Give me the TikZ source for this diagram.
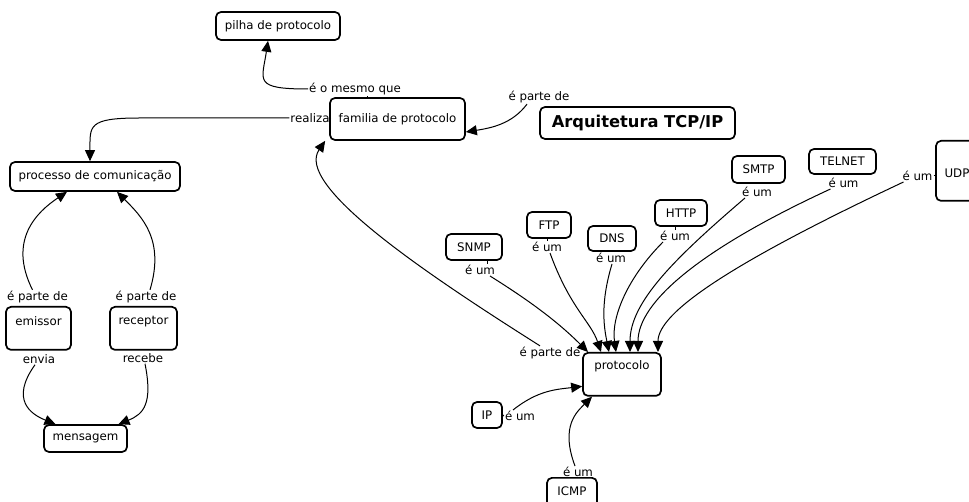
\documentclass[tikz,border=0pt]{standalone}
\usepackage{fontspec}
\setmainfont{DejaVu Sans}
\usetikzlibrary{arrows.meta}
\begin{document}
\begin{tikzpicture}[x=1pt,y=-1pt,
  concept/.style={draw=black,line width=1.7pt,rounded corners=5pt,inner sep=0pt,font=\fontsize{11.8}{13}\selectfont},
  topbox/.style={concept,anchor=north},
  lbl/.style={inner sep=1pt,font=\fontsize{11.8}{13}\selectfont},
  link/.style={line width=1pt},
  arr/.style={link,-{Triangle[length=11pt,width=10pt]}}]
\clip (0,0) rectangle (969,502);
\fill[white] (0,0) rectangle (969,502);
% concepts
\node[concept,minimum width=124pt,minimum height=28pt] (pilha) at (278,26) {pilha de protocolo};
\node[concept,minimum width=135pt,minimum height=42pt] (fam) at (397.5,119) {familia de protocolo};
\node[concept,minimum width=195pt,minimum height=32pt,font=\fontsize{16.3}{18}\selectfont\bfseries] (arq) at (637.5,123) {Arquitetura TCP/IP};
\node[concept,minimum width=170pt,minimum height=29pt] (proc) at (95,176.5) {processo de comunicação};
\node[topbox,minimum width=65pt,text height=19pt,text depth=24pt] (emis) at (38.5,306) {emissor};
\node[topbox,minimum width=67pt,text height=18pt,text depth=25pt] (recep) at (143.5,306) {receptor};
\node[concept,minimum width=83pt,minimum height=27pt] (mens) at (85.5,438.5) {mensagem};
\node[topbox,minimum width=78pt,text height=17pt,text depth=26pt] (proto) at (622,352) {protocolo};
\node[concept,minimum width=56pt,minimum height=26pt] (snmp) at (474,247) {SNMP};
\node[concept,minimum width=44pt,minimum height=26pt] (ftp) at (549,225) {FTP};
\node[concept,minimum width=48pt,minimum height=25pt] (dns) at (612,238.5) {DNS};
\node[concept,minimum width=52pt,minimum height=26pt] (http) at (681,213) {HTTP};
\node[concept,minimum width=53pt,minimum height=27pt] (smtp) at (758.5,169.5) {SMTP};
\node[concept,minimum width=67pt,minimum height=25pt] (telnet) at (842.5,161.5) {TELNET};
\node[topbox,minimum width=42pt,text height=37pt,text depth=23pt] (udp) at (957,140) {UDP};
\node[concept,minimum width=30pt,minimum height=26pt] (ip) at (487,415) {IP};
\node[topbox,minimum width=50pt,text height=18pt,text depth=12pt] (icmp) at (572,477) {ICMP};
% linking phrases
\node[lbl] (lmesmo) at (355,89) {é o mesmo que};
\node[lbl] (lrealiza) at (310,118) {realiza};
\node[lbl] (larq) at (539,97) {é parte de};
\node[lbl] (lpe) at (37.5,297) {é parte de};
\node[lbl] (lpr) at (146,297) {é parte de};
\node[lbl] (lenvia) at (39,359) {envia};
\node[lbl] (lrecebe) at (143,358) {recebe};
\node[lbl] (lsnmp) at (480,270) {é um};
\node[lbl] (lftp) at (547,247) {é um};
\node[lbl] (ldns) at (611,258) {é um};
\node[lbl] (lhttp) at (675,236) {é um};
\node[lbl] (lsmtp) at (757,192) {é um};
\node[lbl] (ltelnet) at (843.5,183) {é um};
\node[lbl] (ludp) at (917.5,176) {é um};
\node[lbl] (lpp) at (550,353) {é parte de};
\node[lbl] (lip) at (520,416) {é um};
\node[lbl] (licmp) at (578,472) {é um};
% connectors
\draw[link] ([xshift=12pt]lmesmo.south) -- ([xshift=12pt]lmesmo.south |- fam.north);
\draw[arr] (lmesmo.west) .. controls +(-55,0) and +(-6,40) .. ([xshift=-10pt]pilha.south);
\draw[link] (fam.west) -- (lrealiza.east);
\draw[arr] (lrealiza.west) -- ++(-150,0) .. controls +(-52,0) and +(0,-35) .. ([xshift=-5pt]proc.north);
\draw[arr] ([xshift=-12pt]larq.south) .. controls +(-15,20) and +(25,-4) .. ([yshift=-13pt]fam.east);
\draw[arr] ([xshift=-10pt]lpp.north) .. controls (420,270) and (295,185) .. ([xshift=-4pt]fam.south west);
\draw[arr] ([xshift=-5pt]lpe.north) .. controls +(-25,-50) and +(-30,20) .. ([xshift=-28pt]proc.south);
\draw[arr] ([xshift=4pt]lpr.north) .. controls +(15,-50) and +(25,25) .. ([xshift=22pt]proc.south);
\draw[arr] ([xshift=-4pt]lenvia.south) .. controls +(-25,35) and +(-25,-10) .. ([xshift=-30pt]mens.north);
\draw[arr] ([xshift=2pt]lrecebe.south) .. controls +(8,40) and +(25,-10) .. ([xshift=33pt]mens.north);
% into protocolo
\draw[arr] ([xshift=10pt]lsnmp.south) .. controls +(40,25) and +(-30,-30) .. ([xshift=-34pt]proto.north);
\draw[arr] ([xshift=3pt]lftp.south) .. controls +(20,55) and +(-10,-30) .. ([xshift=-21pt]proto.north);
\draw[arr] ([xshift=1pt]ldns.south) .. controls +(-12,40) and +(-5,-25) .. ([xshift=-13pt]proto.north);
\draw[arr] ([xshift=-12pt]lhttp.south) .. controls +(-35,35) and +(-5,-35) .. ([xshift=-6pt]proto.north);
\draw[arr] ([xshift=-12pt]lsmtp.south) .. controls +(-70,60) and +(0,-50) .. ([xshift=8pt]proto.north);
\draw[arr] ([xshift=-13pt]ltelnet.south) .. controls +(-130,60) and +(0,-50) .. ([xshift=16pt]proto.north);
\draw[arr] ([xshift=-14pt]ludp.south) .. controls +(-170,80) and +(0,-40) .. ([xshift=36pt]proto.north);
\draw[link] (ludp.east) -- (udp.west |- ludp.east);
\draw[link] (ip.east) -- (lip.west);
\draw[arr] ([xshift=-7pt]lip.north) .. controls +(25,-20) and +(-25,3) .. ([yshift=-12pt]proto.west);
\draw[arr] ([xshift=-3pt]licmp.north) .. controls +(-15,-40) and +(-15,15) .. ([xshift=-30pt]proto.south);
% short ticks from concepts to phrases
\draw[link] ([xshift=7pt]lsnmp.north) -- ([xshift=7pt]lsnmp.north |- snmp.south);
\draw[link] (lftp.north) -- (lftp.north |- ftp.south);
\draw[link] (lhttp.north) -- (lhttp.north |- http.south);
\end{tikzpicture}
\end{document}
